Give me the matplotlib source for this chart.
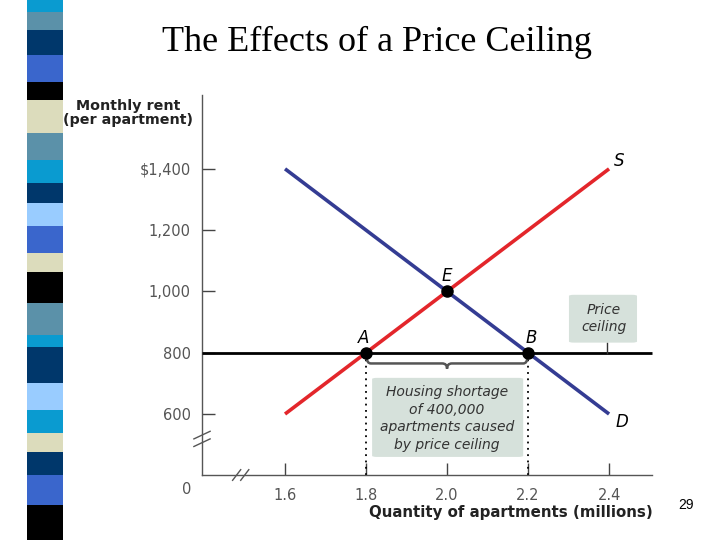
import matplotlib
matplotlib.use("Agg")
import matplotlib.pyplot as plt
from matplotlib.patches import Rectangle, FancyBboxPatch, PathPatch
from matplotlib.path import Path

# ---- data ----
quantity = [1.6, 2.4]
supply_price = [600, 1400]
demand_price = [1400, 600]
ceiling_price = 800
points_labels = ["A", "B", "E"]
points_q = [1.8, 2.2, 2.0]
points_p = [800, 800, 1000]
x_ticks = [1.6, 1.8, 2.0, 2.2, 2.4]
x_ticklabels = ["1.6", "1.8", "2.0", "2.2", "2.4"]
y_ticks = [600, 800, 1000, 1200, 1400]
y_ticklabels = ["600", "800", "1,000", "1,200", "$1,400"]

# decorative stripe (slide template)
stripe_colors = ["#0a9bd0", "#5b91a9", "#00376b", "#3a66cc", "#000000", "#dcdcbc",
                 "#5b91a9", "#0a9bd0", "#00376b", "#99ccff", "#3a66cc", "#dcdcbc",
                 "#000000", "#5b91a9", "#0a9bd0", "#00376b", "#99ccff", "#0a9bd0",
                 "#dcdcbc", "#00376b", "#3a66cc", "#000000"]
stripe_edges = [0, 12, 30, 55, 82, 100, 133, 160, 183, 203, 226, 253, 272, 303,
                335, 347, 383, 410, 433, 452, 475, 505, 540]

W, H = 720, 540
SANS = "DejaVu Sans"
fig = plt.figure(figsize=(7.2, 5.4), dpi=100)
fig.patch.set_facecolor("white")

for c, y0, y1 in zip(stripe_colors, stripe_edges[:-1], stripe_edges[1:]):
    fig.patches.append(Rectangle((27 / W, 1 - y1 / H), 36 / W, (y1 - y0) / H,
                                 transform=fig.transFigure, facecolor=c,
                                 edgecolor="none", zorder=0))

ax = fig.add_axes([202 / W, 1 - 475 / H, 450 / W, 380 / H])
xmin, xmax = 1.395, 2.506
ymin, ymax = 401, 1641
ax.set_xlim(xmin, xmax)
ax.set_ylim(ymin, ymax)
for s in ["top", "right"]:
    ax.spines[s].set_visible(False)
for s in ["left", "bottom"]:
    ax.spines[s].set_color("#555555")
    ax.spines[s].set_linewidth(1.0)

ax.set_xticks(x_ticks)
ax.set_xticklabels(x_ticklabels)
ax.set_yticks(y_ticks)
ax.set_yticklabels(y_ticklabels)
ax.tick_params(axis="both", direction="in", length=9, width=1.0, color="#444444",
               labelsize=10.5, labelcolor="#555555")
ax.tick_params(axis="y", pad=8)
ax.tick_params(axis="x", pad=9)
for lab in ax.get_xticklabels() + ax.get_yticklabels():
    lab.set_family(SANS)

# price ceiling line
ax.plot([xmin, xmax], [ceiling_price, ceiling_price], color="black", lw=2.0,
        solid_capstyle="butt", zorder=3, clip_on=False)

# dotted verticals
for q in points_q[:2]:
    ax.plot([q, q], [ymin, ceiling_price - 20], color="black", lw=1.3,
            linestyle=(0, (1, 2.5)), zorder=2)

# supply and demand
ax.plot(quantity, supply_price, color="#e3262b", lw=2.6, zorder=4, solid_capstyle="butt")
ax.plot(quantity, demand_price, color="#343c93", lw=2.6, zorder=4, solid_capstyle="butt")

# points
ax.plot(points_q, points_p, "o", color="black", ms=8, zorder=6)

lab_font = dict(family=SANS, style="italic", fontsize=12, color="black")
ax.text(points_q[0] - 0.005, points_p[0] + 18, points_labels[0], ha="center", va="bottom", **lab_font)
ax.text(points_q[1] + 0.008, points_p[1] + 18, points_labels[1], ha="center", va="bottom", **lab_font)
ax.text(points_q[2], points_p[2] + 20, points_labels[2], ha="center", va="bottom", **lab_font)
ax.text(quantity[1] + 0.024, supply_price[1] + 25, "S", ha="center", va="center", **lab_font)
ax.text(quantity[1] + 0.032, demand_price[1] - 25, "D", ha="center", va="center", **lab_font)

# brace under A-B
qa, qb = points_q[0], points_q[1]
qm = (qa + qb) / 2
y_top, y_bar, y_tip = 785, 765, 748
d = 0.012
verts = [(qa + 0.002, y_top), (qa + 0.002, y_bar), (qa + d, y_bar),
         (qm - d, y_bar), (qm, y_bar), (qm, y_tip),
         (qm, y_bar), (qm + d, y_bar),
         (qb - d, y_bar), (qb - 0.002, y_bar), (qb - 0.002, y_top)]
codes = [Path.MOVETO, Path.CURVE3, Path.CURVE3,
         Path.LINETO, Path.CURVE3, Path.CURVE3,
         Path.CURVE3, Path.CURVE3,
         Path.LINETO, Path.CURVE3, Path.CURVE3]
ax.add_patch(PathPatch(Path(verts, codes), facecolor="none", edgecolor="#555555",
                       lw=1.8, zorder=3))

box_color = "#d6e1db"
# shortage box
ax.add_patch(FancyBboxPatch((1.815, 460), 0.373, 258,
                            boxstyle="round,pad=0,rounding_size=0.012",
                            mutation_aspect=300, facecolor=box_color,
                            edgecolor="none", zorder=2))
ax.text(qm, 586, "Housing shortage\nof 400,000\napartments caused\nby price ceiling",
        ha="center", va="center", family=SANS, style="italic",
        fontsize=10, color="#333333", linespacing=1.32, zorder=5)

# price ceiling box
ax.add_patch(FancyBboxPatch((2.301, 833), 0.168, 156,
                            boxstyle="round,pad=0,rounding_size=0.012",
                            mutation_aspect=300, facecolor=box_color,
                            edgecolor="none", zorder=2))
ax.text(2.387, 911, "Price\nceiling", ha="center", va="center",
        family=SANS, style="italic", fontsize=10,
        color="#333333", linespacing=1.32, zorder=5)
ax.plot([2.395, 2.395], [833, 800], color="#333333", lw=1.0, zorder=3)

# axis breaks
ax.plot([-0.018, 0.018], [0.095, 0.115], transform=ax.transAxes, color="#555555",
        lw=1.0, clip_on=False, zorder=7)
ax.plot([-0.018, 0.018], [0.075, 0.095], transform=ax.transAxes, color="#555555",
        lw=1.0, clip_on=False, zorder=7)
ax.plot([0.068, 0.086], [-0.014, 0.014], transform=ax.transAxes, color="#555555",
        lw=1.0, clip_on=False, zorder=7)
ax.plot([0.086, 0.104], [-0.014, 0.014], transform=ax.transAxes, color="#555555",
        lw=1.0, clip_on=False, zorder=7)

# zero label
fig.text(187 / W, 1 - 490 / H, "0", ha="center", va="center",
         family=SANS, fontsize=10.5, color="#555555")

# axis titles
fig.text(128 / W, 1 - 113 / H, "Monthly rent\n(per apartment)", ha="center", va="center",
         family=SANS, fontweight="bold", fontsize=10.3,
         color="#222222", linespacing=1.05)
fig.text(653 / W, 1 - 512 / H, "Quantity of apartments (millions)", ha="right",
         va="center", family=SANS, fontweight="bold", fontsize=10.8,
         color="#222222")

# title
fig.text(377 / W, 1 - 42 / H, "The Effects of a Price Ceiling", ha="center",
         va="center", family="Liberation Serif", fontsize=26, color="black")

# page number
fig.text(686 / W, 1 - 505 / H, "29", ha="center", va="center",
         family="Liberation Sans", fontsize=10, color="black")

fig.savefig("out.png", dpi=100)
